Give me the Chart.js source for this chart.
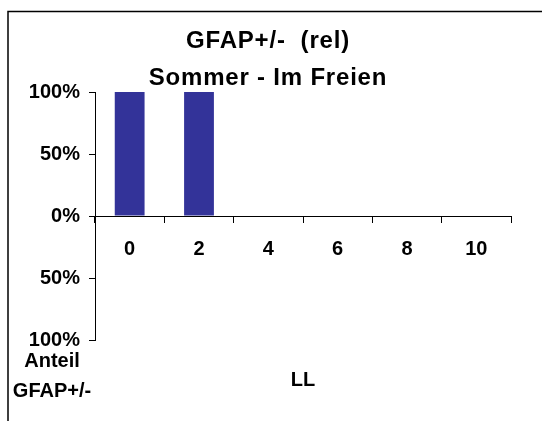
<!DOCTYPE html>
<html>
<head>
<meta charset="utf-8">
<script src="https://cdn.jsdelivr.net/npm/chart.js@4/dist/chart.umd.min.js"></script>
<style>
  html, body { margin: 0; padding: 0; background: #ffffff; }
  #wrap { width: 542px; height: 421px; }
</style>
</head>
<body>
<div id="wrap"><canvas id="c" width="542" height="421"></canvas></div>
<script>
// ---- data ----
const categories = ['0', '2', '4', '6', '8', '10'];
const shareValues = [1, 1, 0, 0, 0, 0];
const yTickValues = [-1, -0.5, 0, 0.5, 1];
const titleLines = ['GFAP+/-  (rel)', 'Sommer - Im Freien'];
const xAxisTitle = 'LL';
const yAxisTitleLines = ['Anteil', 'GFAP+/-'];

const FONT = "'Liberation Sans', Arial, Helvetica, sans-serif";
Chart.defaults.font.family = FONT;
Chart.defaults.color = '#000000';

const decorPlugin = {
  id: 'decor',
  afterDraw(chart) {
    const ctx = chart.ctx;
    const area = chart.chartArea;
    ctx.save();
    // outer frame (extends past right/bottom edge)
    ctx.strokeStyle = '#000000';
    ctx.lineWidth = 1.5;
    ctx.beginPath();
    ctx.moveTo(8, 500);
    ctx.lineTo(8, 11.5);
    ctx.lineTo(600, 11.5);
    ctx.stroke();
    ctx.fillStyle = '#000000';
    ctx.textAlign = 'center';
    ctx.textBaseline = 'middle';
    // chart title (two lines)
    ctx.font = 'bold 24px ' + FONT;
    if ('letterSpacing' in ctx) ctx.letterSpacing = '0.8px';
    ctx.fillText(titleLines[0], 268, 41);
    ctx.fillText(titleLines[1], 268, 78);
    if ('letterSpacing' in ctx) ctx.letterSpacing = '0px';
    // axis titles
    ctx.font = 'bold 20px ' + FONT;
    ctx.fillText(xAxisTitle, (area.left + area.right) / 2, 380);
    ctx.fillText(yAxisTitleLines[0], 52, 361);
    ctx.fillText(yAxisTitleLines[1], 52, 391);
    ctx.restore();
  }
};

new Chart(document.getElementById('c'), {
  type: 'bar',
  data: {
    labels: categories,
    datasets: [{
      data: shareValues,
      backgroundColor: '#333399',
      borderWidth: 0,
      barPercentage: 0.43,
      categoryPercentage: 1
    }]
  },
  options: {
    responsive: false,
    animation: false,
    devicePixelRatio: 1,
    layout: { padding: { left: 0, right: 31, top: 92, bottom: 81 } },
    plugins: {
      legend: { display: false },
      tooltip: { enabled: false },
      title: { display: false }
    },
    scales: {
      x: {
        position: { y: 0 },
        grid: { drawOnChartArea: false, drawTicks: true, tickLength: 6, color: '#000000', offset: true },
        border: { color: '#000000', width: 1 },
        ticks: { color: '#000000', font: { size: 20, weight: 'bold' }, padding: 15, maxRotation: 0 },
        afterFit(s) { s.height = 0; }
      },
      y: {
        min: -1,
        max: 1,
        afterBuildTicks(s) { s.ticks = yTickValues.map(v => ({ value: v })); },
        grid: { drawOnChartArea: false, drawTicks: true, tickLength: 6, color: '#000000' },
        border: { color: '#000000', width: 1 },
        ticks: {
          color: '#000000',
          font: { size: 20, weight: 'bold' },
          padding: 9,
          callback: v => Math.round(Math.abs(v) * 100) + '%'
        },
        afterFit(s) { s.width = 95; }
      }
    }
  },
  plugins: [decorPlugin]
});
</script>
</body>
</html>
